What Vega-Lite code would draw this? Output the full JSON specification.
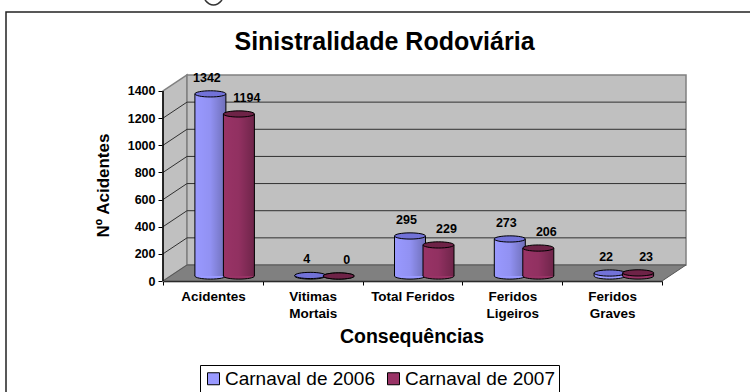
{
"$schema":"https://vega.github.io/schema/vega-lite/v6.json",
"width":523,"height":205,
"autosize":{"type":"none"},
"padding":{"left":163,"top":76,"right":64,"bottom":111},
"background":"white",
"config":{"view":{"stroke":null},"font":"Liberation Sans"},
"title":{"text":"Sinistralidade Rodoviária","font":"Liberation Sans","fontSize":25,"fontWeight":"bold","color":"black","anchor":"middle","frame":"group","dx":-40,"offset":-78,"baseline":"alphabetic"},
"datasets":{
"ticks":[{"v":0},{"v":200},{"v":400},{"v":600},{"v":800},{"v":1000},{"v":1200},{"v":1400}],
"bars":[
{"categoria":"Acidentes","serie":"Carnaval de 2006","v":1342},
{"categoria":"Vitimas Mortais","serie":"Carnaval de 2006","v":4},
{"categoria":"Total Feridos","serie":"Carnaval de 2006","v":295},
{"categoria":"Feridos Ligeiros","serie":"Carnaval de 2006","v":273},
{"categoria":"Feridos Graves","serie":"Carnaval de 2006","v":22},
{"categoria":"Acidentes","serie":"Carnaval de 2007","v":1194},
{"categoria":"Vitimas Mortais","serie":"Carnaval de 2007","v":0},
{"categoria":"Total Feridos","serie":"Carnaval de 2007","v":229},
{"categoria":"Feridos Ligeiros","serie":"Carnaval de 2007","v":206},
{"categoria":"Feridos Graves","serie":"Carnaval de 2007","v":23}
]},
"data":{"name":"bars"},
"encoding":{
"x":{"field":"categoria","type":"nominal","sort":null,"scale":{"range":[0,499],"paddingInner":0,"paddingOuter":0},
"axis":{"title":"Consequências","titleFont":"Liberation Sans","titleFontSize":19.5,"titleFontWeight":"bold","titleColor":"black","titleX":248.5,"titleY":61,"titleAlign":"center","titleBaseline":"alphabetic",
"labelFont":"Liberation Sans","labelFontSize":13.5,"labelFontWeight":"bold","labelColor":"black","labelAngle":0,"labelPadding":4,"labelLineHeight":17,"labelLimit":200,"labelExpr":"datum.label == 'Total Feridos' ? datum.label : split(datum.label, ' ')","tickBand":"extent","tickColor":"black","tickSize":4,"domainColor":"black","domainWidth":1.5,"grid":false}},
"y":{"field":"v","type":"quantitative","scale":{"domain":[0,1510.5],"nice":false,"zero":false},
"axis":{"values":[0,200,400,600,800,1000,1200,1400],"format":"d","title":"Nº Acidentes","titleFont":"Liberation Sans","titleFontSize":17,"titleFontWeight":"bold","titleColor":"black","titleX":-55,"titleY":109,"titleAngle":-90,"titleAlign":"center","titleBaseline":"alphabetic",
"labelFont":"Liberation Sans","labelFontSize":12.5,"labelFontWeight":"bold","labelColor":"black","labelPadding":3,"tickColor":"black","tickSize":5,"domain":false,"grid":false}}
},
"layer":[
{"data":{"name":"ticks"},"transform":[{"filter":"datum.v == 0"}],"mark":{"type":"point","shape":"M-157,111 L-157,-269 L587,-269","size":4,"filled":false,"stroke":"#222222","strokeWidth":1.5,"opacity":1},"encoding":{"x":{"value":0}}},
{"data":{"name":"ticks"},"transform":[{"filter":"datum.v == 0"}],"mark":{"type":"point","shape":"M42,-281 Q46,-276 50.5,-276 Q55,-276 59,-281","size":4,"filled":false,"stroke":"#333333","strokeWidth":1.5,"opacity":1},"encoding":{"x":{"value":0}}},
{"data":{"name":"ticks"},"transform":[{"filter":"datum.v == 0"}],"mark":{"type":"point","shape":"M0,0 L0,-190 L24,-206 L24,-16 Z","size":4,"filled":true,"fill":"#c0c0c0","stroke":"#808080","strokeWidth":1.5,"opacity":1},"encoding":{"x":{"value":0}}},
{"data":{"name":"ticks"},"transform":[{"filter":"datum.v == 0"}],"mark":{"type":"point","shape":"M24,-16 L24,-206 L523,-206 L523,-16 Z","size":4,"filled":true,"fill":"#c0c0c0","stroke":"#808080","strokeWidth":1.5,"opacity":1},"encoding":{"x":{"value":0}}},
{"data":{"name":"ticks"},"transform":[{"filter":"datum.v > 0 && datum.v < 1400"}],"mark":{"type":"point","shape":"M0,0 L24,-16 L523,-16","size":4,"filled":false,"stroke":"#303030","strokeWidth":1,"opacity":1},"encoding":{"x":{"value":0}}},
{"data":{"name":"ticks"},"transform":[{"filter":"datum.v == 0"}],"mark":{"type":"point","shape":"M0,0 L24,-16 L523,-16 L499,0 Z","size":4,"filled":true,"fill":"#808080","stroke":"#555555","strokeWidth":1,"opacity":1},"encoding":{"x":{"value":0}}},
{"data":{"name":"ticks"},"transform":[{"filter":"datum.v == 0"}],"mark":{"type":"point","shape":"M0,0 L0,-190","size":4,"filled":false,"stroke":"#000000","strokeWidth":1.5,"opacity":1},"encoding":{"x":{"value":0}}},

{"transform":[{"filter":"datum.serie == 'Carnaval de 2006'"}],"mark":{"type":"point","shape":"M-1,0 A1,0.2 0 1,1 1,0 A1,0.2 0 1,1 -1,0 Z","size":961,"filled":true,"fill":"#9999ff","stroke":"black","strokeWidth":1,"opacity":1,"xOffset":-2.5,"yOffset":-5},"encoding":{"y":{"datum":0}}},
{"transform":[{"filter":"datum.serie == 'Carnaval de 2006'"}],"mark":{"type":"bar","width":31,"xOffset":-2.5,"yOffset":-5,"y2Offset":-5},"encoding":{"y2":{"datum":0},"color":{"field":"serie","type":"nominal","scale":{"domain":["Carnaval de 2006","Carnaval de 2007"],"range":["#9999ff","#993366"]},"legend":{"orient":"none","legendX":37,"legendY":289,"direction":"horizontal","columns":2,"title":null,"symbolType":"square","symbolSize":144,"symbolStrokeColor":"black","symbolStrokeWidth":1,"symbolOpacity":1,"labelFont":"Liberation Sans","labelFontSize":19,"labelColor":"black","labelOffset":2,"labelLimit":300,"columnPadding":9,"strokeColor":"black","fillColor":"white","padding":4}}}},
{"transform":[{"filter":"datum.serie == 'Carnaval de 2006'"}],"mark":{"type":"bar","width":31,"xOffset":-2.5,"yOffset":-5,"y2Offset":-5,"color":{"gradient":"linear","x1":0,"y1":0,"x2":1,"y2":0,"stops":[{"offset":0,"color":"rgba(0,0,0,0)"},{"offset":0.5,"color":"rgba(0,0,0,0.05)"},{"offset":1,"color":"rgba(0,0,0,0.28)"}]}},"encoding":{"y2":{"datum":0}}},
{"transform":[{"filter":"datum.serie == 'Carnaval de 2006'"}],"mark":{"type":"rule","color":"black","strokeWidth":1,"xOffset":-18,"yOffset":-5,"y2Offset":-5},"encoding":{"y2":{"datum":0}}},
{"transform":[{"filter":"datum.serie == 'Carnaval de 2006'"}],"mark":{"type":"rule","color":"black","strokeWidth":1,"xOffset":13,"yOffset":-5,"y2Offset":-5},"encoding":{"y2":{"datum":0}}},
{"transform":[{"filter":"datum.serie == 'Carnaval de 2006'"}],"mark":{"type":"point","shape":"M-1,0 A1,0.2 0 1,1 1,0 A1,0.2 0 1,1 -1,0 Z","size":961,"filled":true,"fill":"#7272d8","stroke":"black","strokeWidth":1,"opacity":1,"xOffset":-2.5,"yOffset":-5}},

{"transform":[{"filter":"datum.serie == 'Carnaval de 2007'"}],"mark":{"type":"point","shape":"M-1,0 A1,0.2 0 1,1 1,0 A1,0.2 0 1,1 -1,0 Z","size":961,"filled":true,"fill":"#993366","stroke":"black","strokeWidth":1,"opacity":1,"xOffset":26,"yOffset":-5},"encoding":{"y":{"datum":0}}},
{"transform":[{"filter":"datum.serie == 'Carnaval de 2007'"}],"mark":{"type":"bar","width":31,"xOffset":26,"yOffset":-5,"y2Offset":-5},"encoding":{"y2":{"datum":0},"color":{"field":"serie","type":"nominal"}}},
{"transform":[{"filter":"datum.serie == 'Carnaval de 2007'"}],"mark":{"type":"bar","width":31,"xOffset":26,"yOffset":-5,"y2Offset":-5,"color":{"gradient":"linear","x1":0,"y1":0,"x2":1,"y2":0,"stops":[{"offset":0,"color":"rgba(0,0,0,0)"},{"offset":0.5,"color":"rgba(0,0,0,0.05)"},{"offset":1,"color":"rgba(0,0,0,0.28)"}]}},"encoding":{"y2":{"datum":0}}},
{"transform":[{"filter":"datum.serie == 'Carnaval de 2007'"}],"mark":{"type":"rule","color":"black","strokeWidth":1,"xOffset":10.5,"yOffset":-5,"y2Offset":-5},"encoding":{"y2":{"datum":0}}},
{"transform":[{"filter":"datum.serie == 'Carnaval de 2007'"}],"mark":{"type":"rule","color":"black","strokeWidth":1,"xOffset":41.5,"yOffset":-5,"y2Offset":-5},"encoding":{"y2":{"datum":0}}},
{"transform":[{"filter":"datum.serie == 'Carnaval de 2007'"}],"mark":{"type":"point","shape":"M-1,0 A1,0.2 0 1,1 1,0 A1,0.2 0 1,1 -1,0 Z","size":961,"filled":true,"fill":"#6e2347","stroke":"black","strokeWidth":1,"opacity":1,"xOffset":26,"yOffset":-5}},

{"transform":[{"filter":"datum.serie == 'Carnaval de 2006'"}],"mark":{"type":"text","font":"Liberation Sans","fontSize":12.5,"fontWeight":"bold","color":"black","dx":-6,"dy":-17,"baseline":"alphabetic"},"encoding":{"text":{"field":"v","type":"quantitative","format":"d"}}},
{"transform":[{"filter":"datum.serie == 'Carnaval de 2007'"}],"mark":{"type":"text","font":"Liberation Sans","fontSize":12.5,"fontWeight":"bold","color":"black","dx":34,"dy":-17,"baseline":"alphabetic"},"encoding":{"text":{"field":"v","type":"quantitative","format":"d"}}}
]
}
